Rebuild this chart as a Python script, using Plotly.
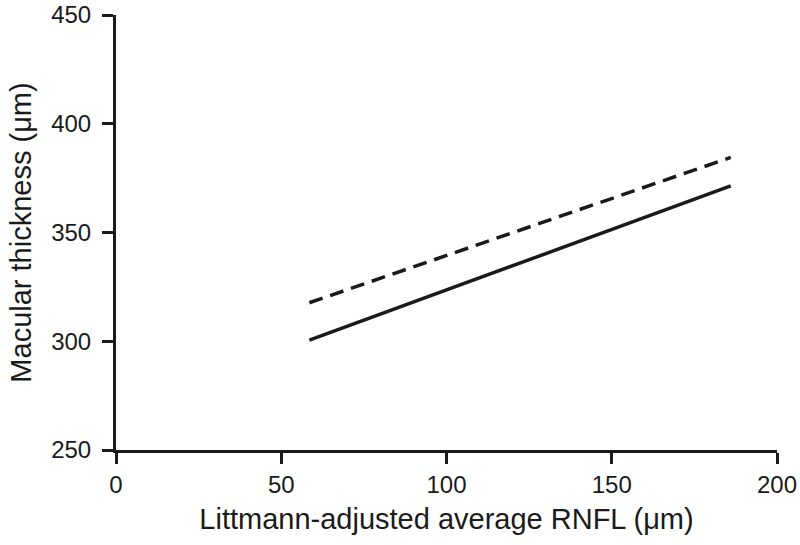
import plotly.graph_objects as go

rnfl_x = [58.5, 186]
solid_y = [300.5, 371.4]
dashed_y = [317.7, 384.5]
x_ticks = [0, 50, 100, 150, 200]
y_ticks = [250, 300, 350, 400, 450]

FONT = "Liberation Sans, Arial, Helvetica"
INK = "#1a1a1a"

fig = go.Figure()
fig.add_trace(go.Scatter(x=rnfl_x, y=dashed_y, mode="lines",
                         line=dict(color=INK, width=3.5, dash="14px,8px"),
                         showlegend=False))
fig.add_trace(go.Scatter(x=rnfl_x, y=solid_y, mode="lines",
                         line=dict(color=INK, width=3.5),
                         showlegend=False))

axis_common = dict(showline=True, linewidth=3, linecolor=INK,
                   ticks="outside", ticklen=11, tickwidth=3, tickcolor=INK,
                   showgrid=False, zeroline=False, ticklabeloverflow="allow",
                   tickfont=dict(family=FONT, size=24, color=INK))

fig.update_xaxes(range=[0, 200], tickvals=x_ticks,
                 title=dict(text="Littmann-adjusted average RNFL (μm)",
                            font=dict(family=FONT, size=29, color=INK),
                            standoff=12),
                 **axis_common)
fig.update_yaxes(range=[250, 450], tickvals=y_ticks, ticklabelstandoff=6,
                 title=dict(text="Macular thickness (μm)",
                            font=dict(family=FONT, size=29, color=INK),
                            standoff=12),
                 **axis_common)

fig.update_layout(width=800, height=545, plot_bgcolor="white", paper_bgcolor="white",
                  margin=dict(l=116, r=23, t=15, b=95, autoexpand=False))
fig.write_html("out.html", config={"displayModeBar": False},
               post_script="document.body.style.margin='0';document.body.style.overflow='hidden';")
